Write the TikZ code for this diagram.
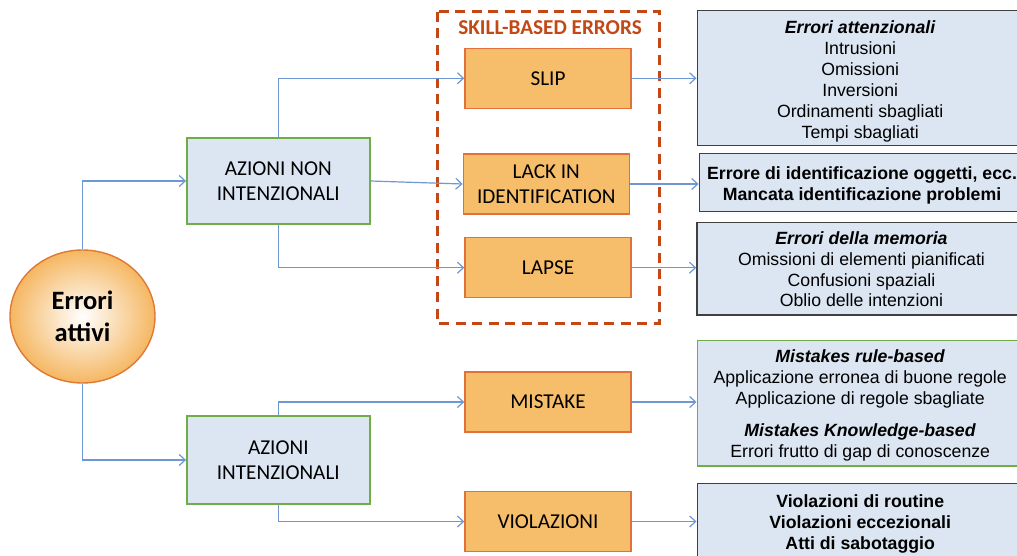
\documentclass[tikz,border=0pt]{standalone}
\usepackage{fontspec}
\setmainfont{Liberation Sans}
\newfontfamily\carl{Carlito}
\newfontfamily\arl{Liberation Sans}
\usetikzlibrary{shapes.geometric,arrows.meta}
\definecolor{bluefill}{RGB}{220,230,242}
\definecolor{greenline}{RGB}{112,173,71}
\definecolor{orfill}{RGB}{246,190,106}
\definecolor{orline}{RGB}{226,112,58}
\definecolor{skillred}{RGB}{195,72,22}
\definecolor{connblue}{RGB}{110,152,212}
\definecolor{darkline}{RGB}{64,64,64}
\definecolor{circout}{RGB}{245,183,98}
\definecolor{circline}{RGB}{222,122,52}
\tikzset{
  conn/.style={draw=connblue, line width=1.2pt, -{Straight Barb[length=6pt,width=11pt]}},
  greenbox/.style={draw=greenline, fill=bluefill, line width=1.4pt, rectangle, align=center,
     font=\carl\fontsize{21.2}{25}\selectfont, inner sep=0pt},
  orbox/.style={draw=orline, fill=orfill, line width=1.4pt, rectangle, align=center,
     font=\carl\fontsize{21.2}{25}\selectfont, inner sep=0pt, minimum width=166pt, minimum height=60pt},
  rbox/.style={draw=darkline, fill=bluefill, line width=1.4pt, rectangle, inner sep=0pt},
  rtext/.style={align=center, inner sep=0pt, font=\arl\fontsize{17.7}{20.9}\selectfont},
  rbold/.style={rtext, font=\arl\bfseries\fontsize{17.7}{20.9}\selectfont},
}
\begin{document}
\begin{tikzpicture}[x=1pt,y=-1pt]
\useasboundingbox (0,0) rectangle (1017,556);
\fill[white] (0,0) rectangle (1017,556);
% circle
\node[ellipse, draw=circline, line width=1.4pt, inner color=white, outer color=circout,
      minimum width=145pt, minimum height=133pt, align=center,
      font=\carl\bfseries\fontsize{26.5}{32}\selectfont] (circ) at (82.5,316.5) {Errori\\attivi};
% green boxes
\node[greenbox, minimum width=183pt, minimum height=86pt] (ani) at (278.3,181) {AZIONI NON\\INTENZIONALI};
\node[greenbox, minimum width=183pt, minimum height=88pt] (ai) at (278.3,460) {AZIONI\\INTENZIONALI};
% skill-based dashed frame
\draw[skillred, line width=3pt, dash pattern=on 10pt off 6.5pt] (437.3,11.7) rectangle (659.3,323.3);
\node[text=skillred, font=\carl\bfseries\fontsize{21.2}{24}\selectfont] (skill) at (550,28) {SKILL-BASED ERRORS};
% orange boxes
\node[orbox] (slip) at (548,78.3) {SLIP};
\node[orbox] (lack) at (546.3,184) {LACK IN\\IDENTIFICATION};
\node[orbox] (lapse) at (548,267.7) {LAPSE};
\node[orbox] (mistake) at (548,402) {MISTAKE};
\node[orbox] (viol) at (548,521.5) {VIOLAZIONI};
% right boxes
\node[rbox, minimum width=326pt, minimum height=135pt] (r1) at (860.2,78.3) {};
\node[rtext] (r1t) at ([yshift=-3pt]r1.center)
  {\textbf{\textit{Errori attenzionali}}\\Intrusioni\\Omissioni\\Inversioni\\Ordinamenti sbagliati\\Tempi sbagliati};
\node[rbox, minimum width=340pt, minimum height=58pt] (r2) at (869.3,182.5) {};
\node[rbold] (r2t) at ([xshift=-7.3pt,yshift=-2.5pt]r2.center)
  {Errore di identificazione oggetti, ecc.\\Mancata identificazione problemi};
\node[rbox, minimum width=329pt, minimum height=92pt] (r3) at (861.5,268.8) {};
\node[rtext] (r3t) at ([yshift=-0.5pt]r3.center)
  {\textbf{\textit{Errori della memoria}}\\Omissioni di elementi pianificati\\Confusioni spaziali\\Oblio delle intenzioni};
\node[rbox, draw=greenline, minimum width=326pt, minimum height=125.5pt] (r4) at (860.2,403.4) {};
\node[rtext] (r4t) at ([yshift=-2pt]r4.center)
  {\textbf{\textit{Mistakes rule-based}}\\Applicazione erronea di buone regole\\Applicazione di regole sbagliate\\[10.5pt]
   \textbf{\textit{Mistakes Knowledge-based}}\\Errori frutto di gap di conoscenze};
\node[rbox, minimum width=326pt, minimum height=77pt] (r5) at (860.2,521.7) {};
\node[rbold] (r5t) at ([yshift=-2pt]r5.center)
  {Violazioni di routine\\Violazioni eccezionali\\Atti di sabotaggio};
% connectors
\draw[conn] (circ.north) |- (ani.west);
\draw[conn] (circ.south) |- (ai.west);
\draw[conn] (ani.north) |- (slip.west);
\draw[conn] (ani.east) -- (lack.west);
\draw[conn] (ani.south) |- (lapse.west);
\draw[conn] (ai.north) |- (mistake.west);
\draw[conn] (ai.south) |- (viol.west);
\draw[conn] (slip.east) -- (slip.east -| r1.west);
\draw[conn] (lack.east) -- (lack.east -| r2.west);
\draw[conn] (lapse.east) -- (lapse.east -| r3.west);
\draw[conn] (mistake.east) -- (mistake.east -| r4.west);
\draw[conn] (viol.east) -- (viol.east -| r5.west);
\end{tikzpicture}
\end{document}
